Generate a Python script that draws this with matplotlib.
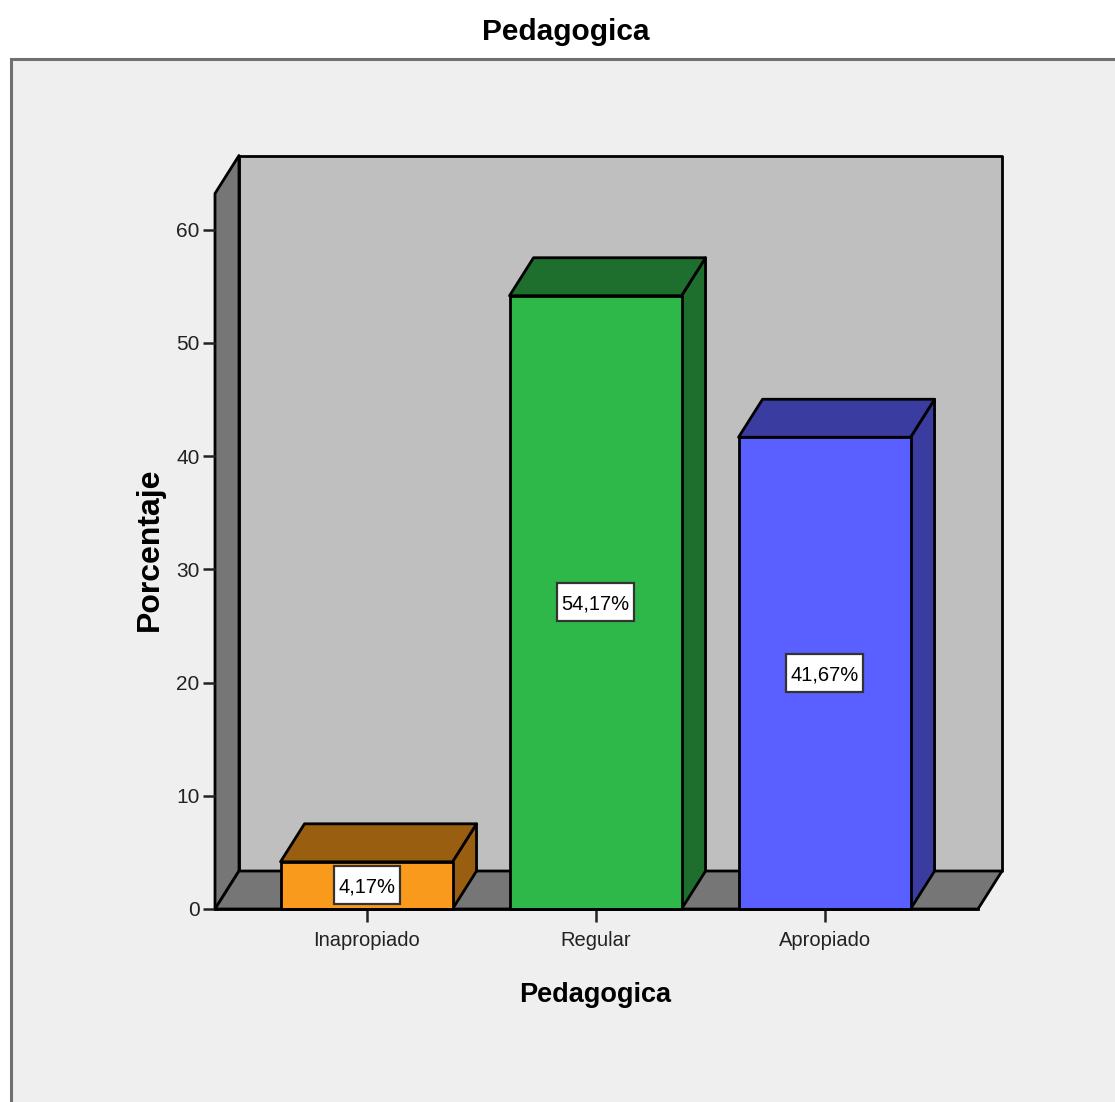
#!/usr/bin/env python3

import matplotlib
matplotlib.use('Agg')
import matplotlib.pyplot as plt
from matplotlib.patches import Polygon, Rectangle

categories = ['Inapropiado', 'Regular', 'Apropiado']
values = [4.17, 54.17, 41.67]
value_labels = ['4,17%', '54,17%', '41,67%']
front_colors = ['#FA9A1C', '#2EB84A', '#5A5FFF']
side_colors = ['#9A5E10', '#1E6E2E', '#3A3D9F']
y_ticks = [0, 10, 20, 30, 40, 50, 60]

W, H = 1115, 1102
plt.rcParams['font.family'] = ['Liberation Sans', 'DejaVu Sans']

fig = plt.figure(figsize=(W / 100, H / 100), dpi=100, facecolor='white')

# outer grey panel, runs off the right and bottom of the picture
fig.patches.append(Rectangle((10.5 / W, -0.05), 1.1, 1 + 0.05 - 58.5 / H, transform=fig.transFigure,
                             facecolor='#EFEFEF', edgecolor='#707070', linewidth=2.2, zorder=-1))

left, right, top, bottom = 215, 978, 193.5, 909
ax = fig.add_axes([left / W, 1 - bottom / H, (right - left) / W, (bottom - top) / H])
ax.patch.set_visible(False)
ax.set_xlim(-0.6616, 2.670)
ax.set_ylim(0, 63.2)

px_x = 1 / 229
px_y = 1 / 11.325
dx = 24 * px_x
dy = 38 * px_y
width = 172 * px_x
x0, x1 = ax.get_xlim()
y1 = ax.get_ylim()[1]
edge = dict(edgecolor='black', linewidth=2, joinstyle='round')

# back wall, side wall, floor
ax.add_patch(Polygon([(x0 + dx, dy), (x1 + dx, dy), (x1 + dx, y1 + dy), (x0 + dx, y1 + dy)],
                     facecolor='#BFBFBF', clip_on=False, zorder=1, **edge))
ax.add_patch(Polygon([(x0, 0), (x0 + dx, dy), (x0 + dx, y1 + dy), (x0, y1)],
                     facecolor='#767676', clip_on=False, zorder=1, **edge))
ax.add_patch(Polygon([(x0, 0), (x1, 0), (x1 + dx, dy), (x0 + dx, dy)],
                     facecolor='#767676', clip_on=False, zorder=1, **edge))

renderer = fig.canvas.get_renderer()
for i, v in enumerate(values):
    l, r = i - width / 2, i + width / 2
    ax.add_patch(Polygon([(r, 0), (r + dx, dy), (r + dx, v + dy), (r, v)],
                         facecolor=side_colors[i], clip_on=False, zorder=2, **edge))
    ax.add_patch(Polygon([(l, v), (r, v), (r + dx, v + dy), (l + dx, v + dy)],
                         facecolor=side_colors[i], clip_on=False, zorder=2, **edge))
    ax.add_patch(Rectangle((l, 0), width, v, facecolor=front_colors[i], clip_on=False, zorder=3, **edge))
    t = ax.text(i, v / 2, value_labels[i], ha='center', va='center_baseline', fontsize=14.5,
                color='black', zorder=5)
    # label box is taller than the text, so it can't be a plain bbox
    box_w = (t.get_window_extent(renderer).width + 9) * px_x
    box_h = 38 * px_y
    ax.add_patch(Rectangle((i - box_w / 2, v / 2 - box_h / 2), box_w, box_h, facecolor='white',
                           edgecolor='#333333', linewidth=1.6, zorder=4))

for s in ['top', 'right', 'left']:
    ax.spines[s].set_visible(False)
ax.spines['bottom'].set_linewidth(2)
ax.spines['bottom'].set_zorder(3)

ax.set_xticks(range(len(categories)))
ax.set_xticklabels(categories)
ax.set_yticks(y_ticks)
ax.tick_params(axis='x', length=9, width=1.8, labelsize=14.5, pad=7, color='#222222', labelcolor='#222222')
ax.tick_params(axis='y', length=9, width=1.8, labelsize=15, pad=2, color='#222222', labelcolor='#222222')

fig.text(566 / W, 1 - 32 / H, 'Pedagogica', ha='center', va='center', fontsize=21.5, fontweight='bold')
fig.text(595 / W, 1 - 995 / H, 'Pedagogica', ha='center', va='center', fontsize=19.5, fontweight='bold')
fig.text(150 / W, 1 - 549 / H, 'Porcentaje', ha='center', va='center', rotation=90, fontsize=23,
         fontweight='bold')

fig.savefig('out.png', dpi=100, facecolor='white')
plt.close()
